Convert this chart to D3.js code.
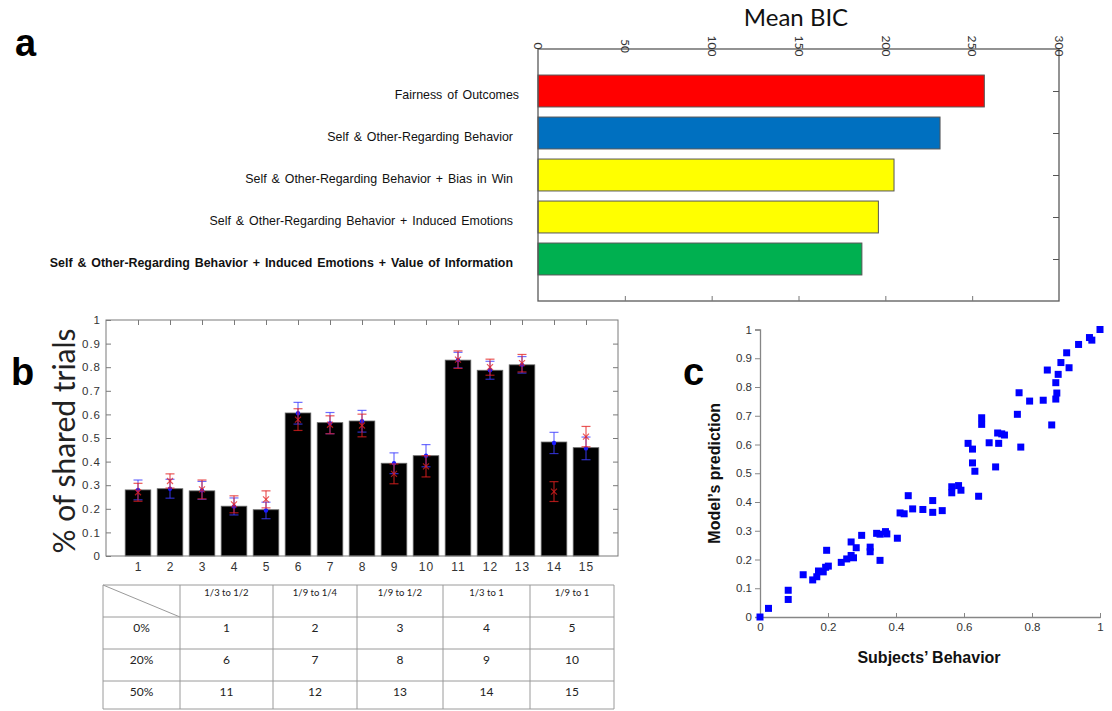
<!DOCTYPE html>
<html>
<head>
<meta charset="utf-8">
<script src="https://cdn.jsdelivr.net/npm/d3@7"></script>
<style>
  body { margin: 0; background: #fff; }
  svg { display: block; }
  .lbl { font-family: 'Liberation Sans', Arial, sans-serif; }
  .cal { font-family: Lato, 'Open Sans', sans-serif; }
</style>
</head>
<body>
<div id="chart"></div>
<script>
// panel a: model comparison
const modelNames = [
  'Fairness of Outcomes',
  'Self & Other-Regarding Behavior',
  'Self & Other-Regarding Behavior + Bias in Win',
  'Self & Other-Regarding Behavior + Induced Emotions',
  'Self & Other-Regarding Behavior + Induced Emotions  + Value of Information'
];
const meanBIC = [257, 231.5, 205, 196, 186.5];
const bicTicks = [0, 50, 100, 150, 200, 250, 300];

// panel b: share rate per condition
const conditions = [1, 2, 3, 4, 5, 6, 7, 8, 9, 10, 11, 12, 13, 14, 15];
const shareRate = [0.280, 0.285, 0.276, 0.211, 0.196, 0.606, 0.565, 0.572, 0.393, 0.425, 0.830, 0.787, 0.810, 0.483, 0.459];
const subjMean = [0.280, 0.285, 0.278, 0.210, 0.193, 0.605, 0.563, 0.571, 0.393, 0.425, 0.830, 0.787, 0.810, 0.479, 0.456];
const subjSem  = [0.042, 0.040, 0.038, 0.036, 0.035, 0.046, 0.045, 0.046, 0.044, 0.047, 0.033, 0.038, 0.035, 0.045, 0.048];
const modelMean = [0.270, 0.318, 0.282, 0.219, 0.240, 0.578, 0.556, 0.553, 0.348, 0.380, 0.832, 0.800, 0.817, 0.273, 0.506];
const modelSem  = [0.038, 0.030, 0.040, 0.036, 0.036, 0.046, 0.038, 0.048, 0.042, 0.045, 0.037, 0.034, 0.037, 0.042, 0.043];
const shareTicks = [0, 0.1, 0.2, 0.3, 0.4, 0.5, 0.6, 0.7, 0.8, 0.9, 1];

// table under panel b
const ratioHeaders = ['1/3 to 1/2', '1/9 to 1/4', '1/9 to 1/2', '1/3 to 1', '1/9 to 1'];
const lossRows = ['0%', '20%', '50%'];

// panel c: behaviour vs prediction
const behavior = [1.0, 0.969, 0.976, 0.937, 0.902, 0.885, 0.845, 0.909, 0.877, 0.870, 0.873, 0.870, 0.858, 0.833, 0.793,
  0.762, 0.757, 0.767, 0.652, 0.652, 0.699, 0.711, 0.719, 0.674, 0.702, 0.693, 0.612, 0.625, 0.625, 0.632,
  0.643, 0.564, 0.564, 0.584, 0.591, 0.436, 0.508, 0.449, 0.479, 0.508, 0.536, 0.412, 0.424, 0.404, 0.343,
  0.353, 0.369, 0.373, 0.299, 0.268, 0.283, 0.324, 0.324, 0.353, 0.196, 0.268, 0.275, 0.255, 0.239, 0.201,
  0.193, 0.172, 0.186, 0.167, 0.155, 0.127, 0.083, 0.083, 0.025, 0];
const prediction = [1.0, 0.972, 0.963, 0.948, 0.919, 0.885, 0.859, 0.867, 0.844, 0.815, 0.779, 0.758, 0.668, 0.754, 0.751,
  0.780, 0.705, 0.591, 0.693, 0.670, 0.640, 0.637, 0.633, 0.606, 0.604, 0.522, 0.604, 0.584, 0.536, 0.507,
  0.420, 0.453, 0.432, 0.457, 0.441, 0.422, 0.405, 0.376, 0.374, 0.364, 0.370, 0.362, 0.359, 0.274, 0.291,
  0.288, 0.297, 0.289, 0.284, 0.261, 0.241, 0.243, 0.227, 0.197, 0.232, 0.214, 0.206, 0.202, 0.190, 0.177,
  0.173, 0.160, 0.157, 0.140, 0.129, 0.147, 0.093, 0.061, 0.030, 0];
const scatterTicksY = [0, 0.1, 0.2, 0.3, 0.4, 0.5, 0.6, 0.7, 0.8, 0.9, 1];
const scatterTicksX = [0, 0.2, 0.4, 0.6, 0.8, 1];

const modelColors = ['#ff0000', '#0070c0', '#ffff00', '#ffff00', '#00b050'];
const fmt = d3.format('~g');

const svg = d3.select('#chart').append('svg')
  .attr('width', 1112)
  .attr('height', 711);

// panel letters
[['a', 15, 56], ['b', 11, 385], ['c', 683, 385]].forEach(([t, px, py]) => {
  svg.append('text').attr('class', 'lbl')
    .attr('x', px).attr('y', py)
    .style('font-size', '38px').style('font-weight', 'bold')
    .text(t);
});

// ---------- panel a ----------
{
  const x = d3.scaleLinear().domain([0, 300]).range([538, 1059]);
  const y = d3.scaleLinear().domain([0, 6]).range([49, 301]);
  const g = svg.append('g');

  g.append('text').attr('class', 'cal')
    .attr('x', 796).attr('y', 26)
    .attr('text-anchor', 'middle')
    .style('font-size', '24px').style('fill', '#111')
    .text('Mean BIC');

  g.selectAll('.bic').data(meanBIC).enter().append('rect')
    .attr('class', 'bic')
    .attr('x', x(0))
    .attr('y', (d, i) => y(i + 1 - 0.38))
    .attr('width', d => x(d) - x(0))
    .attr('height', y(0.76) - y(0))
    .attr('fill', (d, i) => modelColors[i])
    .attr('stroke', '#555')
    .attr('stroke-width', 1);

  g.selectAll('.mname').data(modelNames).enter().append('text')
    .attr('class', 'lbl mname')
    .attr('x', (d, i) => i === 0 ? 519 : 513)
    .attr('y', (d, i) => y(i + 1) + 7.5)
    .attr('text-anchor', 'end')
    .style('font-size', '12.4px')
    .style('font-weight', (d, i) => i === 4 ? 'bold' : 'normal')
    .style('word-spacing', '1.5px')
    .style('fill', '#111')
    .text(d => d);

  // box
  g.append('rect')
    .attr('x', x(0)).attr('y', y(0))
    .attr('width', x(300) - x(0)).attr('height', y(6) - y(0))
    .attr('fill', 'none').attr('stroke', '#595959').attr('stroke-width', 1.3);

  const top = g.append('g')
    .attr('transform', 'translate(0,' + y(0) + ')')
    .call(d3.axisTop(x).tickValues(bicTicks).tickSize(0).tickFormat(d3.format('d')));
  top.select('.domain').remove();
  top.selectAll('text')
    .attr('class', 'cal')
    .attr('transform', 'rotate(90)')
    .attr('x', -3).attr('y', 0).attr('dy', '0.35em')
    .style('text-anchor', 'middle')
    .style('font-size', '12px')
    .style('fill', '#333');

  const bottom = g.append('g')
    .attr('transform', 'translate(0,' + y(6) + ')')
    .call(d3.axisBottom(x).tickValues(bicTicks.slice(1, -1)).tickSize(-5).tickFormat(''));
  bottom.select('.domain').remove();
  bottom.selectAll('line').attr('stroke', '#777');

  const right = g.append('g')
    .attr('transform', 'translate(' + x(300) + ',0)')
    .call(d3.axisRight(y).tickValues([1, 2, 3, 4, 5]).tickSize(-6).tickFormat(''));
  right.select('.domain').remove();
  right.selectAll('line').attr('stroke', '#555');
}

// ---------- panel b ----------
{
  const x = d3.scaleLinear().domain([0, 16]).range([106, 618]);
  const y = d3.scaleLinear().domain([0, 1]).range([556, 320]);
  const g = svg.append('g');
  const axisColor = '#7a7a7a';

  g.selectAll('.bar').data(shareRate).enter().append('rect')
    .attr('class', 'bar')
    .attr('x', (d, i) => x(conditions[i] - 0.4))
    .attr('y', d => y(d))
    .attr('width', x(0.8) - x(0))
    .attr('height', d => y(0) - y(d))
    .attr('fill', '#000')
    .attr('stroke', '#666')
    .attr('stroke-width', 0.8);

  // error bars: subjects (blue) and model (red)
  const drawErr = (means, sems, color) => {
    const eg = g.append('g').attr('stroke', color).attr('stroke-opacity', 0.75).attr('stroke-width', 1.2);
    means.forEach((m, i) => {
      const cx = x(conditions[i]);
      eg.append('line').attr('x1', cx).attr('x2', cx).attr('y1', y(m - sems[i])).attr('y2', y(m + sems[i]));
      eg.append('line').attr('x1', cx - 4.5).attr('x2', cx + 4.5).attr('y1', y(m - sems[i])).attr('y2', y(m - sems[i]));
      eg.append('line').attr('x1', cx - 4.5).attr('x2', cx + 4.5).attr('y1', y(m + sems[i])).attr('y2', y(m + sems[i]));
    });
    return eg;
  };
  drawErr(subjMean, subjSem, '#3c3cff');
  g.selectAll('.sdot').data(subjMean).enter().append('circle')
    .attr('class', 'sdot')
    .attr('cx', (d, i) => x(conditions[i]))
    .attr('cy', d => y(d))
    .attr('r', 2.2)
    .attr('fill', '#1a1aff');
  const rg = drawErr(modelMean, modelSem, '#e32020');
  modelMean.forEach((m, i) => {
    const cx = x(conditions[i]), cy = y(m);
    rg.append('path').attr('d', `M${cx - 3},${cy - 3}L${cx + 3},${cy + 3}M${cx - 3},${cy + 3}L${cx + 3},${cy - 3}`);
  });

  // box
  g.append('rect')
    .attr('x', x(0)).attr('y', y(1))
    .attr('width', x(16) - x(0)).attr('height', y(0) - y(1))
    .attr('fill', 'none').attr('stroke', axisColor).attr('stroke-width', 1);

  const left = g.append('g')
    .attr('transform', 'translate(' + x(0) + ',0)')
    .call(d3.axisLeft(y).tickValues(shareTicks).tickSize(-5).tickPadding(5).tickFormat(fmt));
  left.select('.domain').remove();
  left.selectAll('line').attr('stroke', axisColor);
  left.selectAll('text').attr('class', 'lbl').style('font-size', '11.5px').style('letter-spacing', '1px').style('fill', '#333');

  const right = g.append('g')
    .attr('transform', 'translate(' + x(16) + ',0)')
    .call(d3.axisRight(y).tickValues(shareTicks.slice(1, -1)).tickSize(-5).tickFormat(''));
  right.select('.domain').remove();
  right.selectAll('line').attr('stroke', axisColor);

  const top = g.append('g')
    .attr('transform', 'translate(0,' + y(1) + ')')
    .call(d3.axisTop(x).tickValues(conditions).tickSize(-5).tickFormat(''));
  top.select('.domain').remove();
  top.selectAll('line').attr('stroke', axisColor);

  const bottom = g.append('g')
    .attr('transform', 'translate(0,' + y(0) + ')')
    .call(d3.axisBottom(x).tickValues(conditions).tickSize(0).tickPadding(6));
  bottom.select('.domain').remove();
  bottom.selectAll('text').attr('class', 'lbl').style('font-size', '12px').style('letter-spacing', '1px').style('fill', '#333');

  g.append('text').attr('class', 'cal')
    .attr('transform', 'translate(75,' + (y(0.5) + 3) + ') rotate(-90)')
    .attr('text-anchor', 'middle')
    .style('font-size', '30px').style('fill', '#222')
    .text('% of shared trials');

  // condition table
  const colEdges = [103, 180, 273, 357, 443, 530, 614];
  const rowEdges = [585, 617, 649, 681, 709];
  const tg = g.append('g').attr('stroke', '#9a9a9a').attr('stroke-width', 1);
  colEdges.forEach(cx => tg.append('line').attr('x1', cx).attr('x2', cx).attr('y1', rowEdges[0]).attr('y2', rowEdges[4]));
  rowEdges.forEach(ry => tg.append('line').attr('x1', colEdges[0]).attr('x2', colEdges[6]).attr('y1', ry).attr('y2', ry));
  tg.append('line').attr('x1', colEdges[0]).attr('y1', rowEdges[0]).attr('x2', colEdges[1]).attr('y2', rowEdges[1]);

  const mid = j => (colEdges[j] + colEdges[j + 1]) / 2;
  ratioHeaders.forEach((h, j) => {
    g.append('text').attr('class', 'cal')
      .attr('x', mid(j + 1)).attr('y', rowEdges[0] + 11)
      .attr('text-anchor', 'middle')
      .style('font-size', '9.5px').style('fill', '#222')
      .text(h);
  });
  lossRows.forEach((r, k) => {
    g.append('text').attr('class', 'cal')
      .attr('x', mid(0)).attr('y', rowEdges[k + 1] + 15)
      .attr('text-anchor', 'middle')
      .style('font-size', '12px').style('fill', '#222')
      .text(r);
    ratioHeaders.forEach((h, j) => {
      g.append('text').attr('class', 'cal')
        .attr('x', mid(j + 1)).attr('y', rowEdges[k + 1] + 15)
        .attr('text-anchor', 'middle')
        .style('font-size', '12px').style('fill', '#222')
        .text(conditions[k * ratioHeaders.length + j]);
    });
  });
}

// ---------- panel c ----------
{
  const x = d3.scaleLinear().domain([0, 1]).range([760, 1100]);
  const y = d3.scaleLinear().domain([0, 1]).range([617, 329.5]);
  const g = svg.append('g');
  const axisColor = '#868686';

  const left = g.append('g')
    .attr('transform', 'translate(' + x(0) + ',0)')
    .call(d3.axisLeft(y).tickValues(scatterTicksY).tickSize(5).tickPadding(3).tickFormat(fmt));
  left.select('.domain').attr('stroke', axisColor).attr('stroke-width', 1.3);
  left.selectAll('line').attr('stroke', axisColor);
  left.selectAll('text').attr('class', 'lbl').style('font-size', '11.5px').style('fill', '#333');

  const bottom = g.append('g')
    .attr('transform', 'translate(0,' + y(0) + ')')
    .call(d3.axisBottom(x).tickValues(scatterTicksX).tickSize(0).tickPadding(6).tickFormat(fmt));
  bottom.select('.domain').attr('stroke', axisColor).attr('stroke-width', 1.3);
  bottom.selectAll('text').attr('class', 'lbl').style('font-size', '11.5px').style('fill', '#333');
  bottom.selectAll('.tick').append('line')
    .attr('y1', -4).attr('y2', 1).attr('stroke', axisColor);

  g.selectAll('.pt').data(behavior).enter().append('rect')
    .attr('class', 'pt')
    .attr('x', d => x(d) - 3.5)
    .attr('y', (d, i) => y(prediction[i]) - 3.5)
    .attr('width', 7).attr('height', 7)
    .attr('fill', '#0000ff');

  g.append('text').attr('class', 'lbl')
    .attr('x', 929).attr('y', 663)
    .attr('text-anchor', 'middle')
    .style('font-size', '16px').style('font-weight', 'bold').style('fill', '#111')
    .text('Subjects\u2019 Behavior');

  g.append('text').attr('class', 'lbl')
    .attr('transform', 'translate(720,' + y(0.5) + ') rotate(-90)')
    .attr('text-anchor', 'middle')
    .style('font-size', '16px').style('font-weight', 'bold').style('fill', '#111')
    .text('Model\u2019s prediction');
}
</script>
</body>
</html>
